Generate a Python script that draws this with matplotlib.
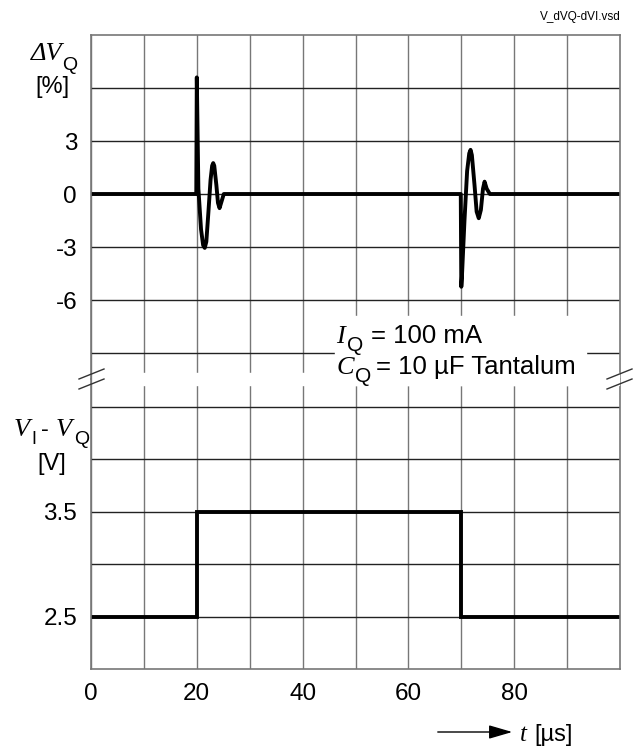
import numpy as np
import matplotlib.pyplot as plt
from matplotlib.patches import Rectangle, FancyArrowPatch
from matplotlib.lines import Line2D

plt.rcParams['font.family'] = ['Liberation Sans', 'DejaVu Sans']

# output voltage deviation [%] vs time [us]
t_top = [0, 19.9, 20.0, 20.3, 20.8, 21.2, 21.5, 21.8, 22.2, 22.6, 22.9, 23.1, 23.3, 23.7, 24.0, 24.3, 24.6, 25.1,
         69.9, 70.0, 70.1, 70.6, 71.1, 71.5, 71.75, 72.0, 72.5, 72.9, 73.3, 73.7, 74.1, 74.4, 74.8, 75.4, 100]
dvq = [0, 0, 6.6, 0.3, -2.0, -2.9, -3.05, -2.7, -1.0, 0.8, 1.6, 1.75, 1.6, 0.5, -0.5, -0.8, -0.5, 0,
       0, -5.25, -4.8, -1.5, 1.3, 2.3, 2.5, 2.2, 0.5, -1.0, -1.37, -0.9, 0.3, 0.7, 0.3, 0, 0]

# input-output voltage step [V]
t_bot = [0, 20, 20, 70, 70, 100]
vdiff = [2.5, 2.5, 3.5, 3.5, 2.5, 2.5]

top_ticks = [-9, -6, -3, 0, 3, 6]
top_labels = ['', '-6', '-3', '0', '3', '']
bot_ticks = [2.5, 3.0, 3.5, 4.0, 4.5]
bot_labels = ['2.5', '', '3.5', '', '']
x_ticks = np.arange(0, 100, 10)
x_labels = ['0', '', '20', '', '40', '', '60', '', '80', '']

W, H = 635, 750
fig = plt.figure(figsize=(W / 100, H / 100), dpi=100)

def fx(px):
    return px / W

def fy(py):
    return 1 - py / H

def italic(x, y, s, size=19, ha='left'):
    fig.text(fx(x), fy(y), s, fontsize=size, family='Liberation Serif', style='italic',
             ha=ha, va='baseline', zorder=7)

def plain(x, y, s, size=17, ha='left'):
    fig.text(fx(x), fy(y), s, fontsize=size, ha=ha, va='baseline', zorder=7)

L, R = 91, 620
ax1 = fig.add_axes([fx(L), fy(379), fx(R) - fx(L), fy(35) - fy(379)])
ax2 = fig.add_axes([fx(L), fy(669), fx(R) - fx(L), fy(379) - fy(669)])

grid_v = '#777777'
grid_h = '#222222'
for ax in (ax1, ax2):
    ax.set_xlim(0, 100)
    ax.set_xticks(x_ticks)
    ax.tick_params(length=0, labelsize=17.5, pad=10)
    ax.grid(axis='x', color=grid_v, lw=1.0)
    ax.grid(axis='y', color=grid_h, lw=1.0)
    ax.set_axisbelow(True)
    for s in ax.spines.values():
        s.set_color('#777777')
        s.set_linewidth(1.2)

ax1.set_ylim(-10.47, 9)
ax1.set_yticks(top_ticks)
ax1.set_yticklabels(top_labels)
ax1.set_xticklabels([])
ax1.spines['bottom'].set_visible(False)
ax1.plot(t_top, dvq, color='black', lw=2.8, solid_joinstyle='round', solid_capstyle='butt')

ax2.set_ylim(2.0, 4.767)
ax2.set_yticks(bot_ticks)
ax2.set_yticklabels(bot_labels)
ax2.set_xticklabels(x_labels)
ax2.spines['top'].set_visible(False)
ax2.plot(t_bot, vdiff, color='black', lw=2.8, solid_joinstyle='miter')

# gap in the grid lines (axis break) and white box behind the note
fig.patches.append(Rectangle((fx(92.5), fy(385)), fx(618.5) - fx(92.5), fy(373) - fy(385),
                             transform=fig.transFigure, color='white', zorder=5))
fig.patches.append(Rectangle((fx(335), fy(385)), fx(586) - fx(335), fy(316) - fy(385),
                             transform=fig.transFigure, color='white', zorder=5))

# break marks
for x0 in (79, 607):
    for dy in (0, 10):
        fig.lines.append(Line2D([fx(x0), fx(x0 + 25)], [fy(379 + dy), fy(369 + dy)],
                                transform=fig.transFigure, color='#333333', lw=1.0, zorder=6))

# note
italic(336, 343, 'I')
plain(347, 351, 'Q', 15)
plain(371, 343, '= 100 mA', 18.5)
italic(337, 374, 'C')
plain(355, 382, 'Q', 15)
plain(376, 374, '= 10 µF Tantalum', 18.5)

# axis labels
italic(63, 60, 'ΔV', ha='right')
plain(62, 70, 'Q', 14)
plain(52, 93, '[%]', 17, ha='center')
italic(30, 436, 'V', ha='right')
plain(31, 444, 'I', 13)
plain(45, 436, '-', 17, ha='center')
italic(72, 436, 'V', ha='right')
plain(74, 444, 'Q', 14)
plain(52, 470, '[V]', 17, ha='center')

fig.text(fx(621), fy(20), 'V_dVQ-dVI.vsd', fontsize=8.5, ha='right', va='baseline')

fig.patches.append(FancyArrowPatch(
    (fx(435), fy(732)), (fx(515), fy(732)), transform=fig.transFigure,
    arrowstyle='-|>,head_length=1.2,head_width=0.35', mutation_scale=12, color='black', lw=1.0))
italic(520, 741, 't', 18)
plain(534, 741, '[µs]', 17)

fig.savefig('out.png', dpi=100)
